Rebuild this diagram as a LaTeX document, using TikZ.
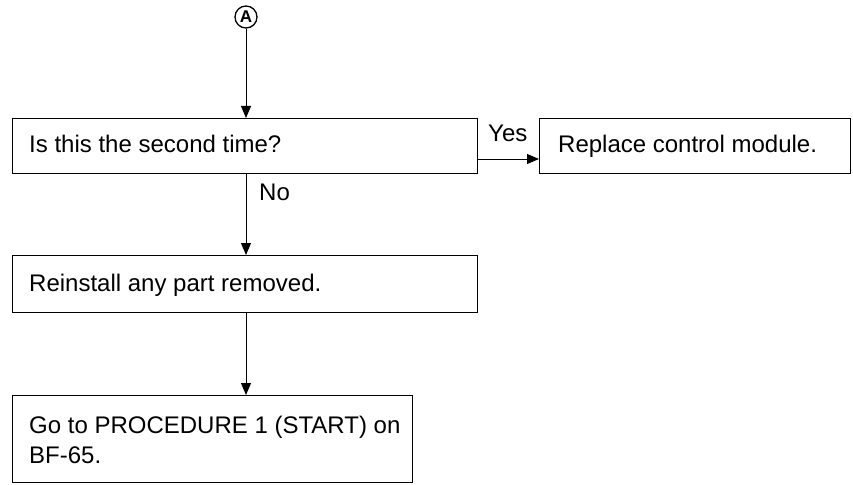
\documentclass[tikz,border=0pt]{standalone}
\usepackage{fontspec}
\setmainfont{Liberation Sans}
\usetikzlibrary{arrows.meta}
\begin{document}
\begin{tikzpicture}[x=1pt,y=-1pt,
  box/.style={draw,line width=1.2pt,rectangle,inner sep=0pt,anchor=north west},
  txt/.style={anchor=base west,font=\fontsize{24}{30}\selectfont,inner sep=0pt},
  conn/.style={line width=0.9pt,-{Triangle[length=12pt,width=10pt]}},
  lbl/.style={font=\fontsize{24}{30}\selectfont,inner sep=0pt}]
\useasboundingbox (0,0) rectangle (853,484);
\node[draw,circle,line width=1.3pt,minimum size=22pt,inner sep=0pt,font=\bfseries\fontsize{17}{17}\selectfont] (A) at (246,17) {A};
\node[box,minimum width=465pt,minimum height=55pt] (b1) at (12,118) {};
\node[txt] (t1) at (29,152) {Is this the second time?};
\node[box,minimum width=311pt,minimum height=55pt] (b2) at (539,118) {};
\node[txt] (t2) at (558,152) {Replace control module.};
\node[box,minimum width=465pt,minimum height=57pt] (b3) at (12,255) {};
\node[txt] (t3) at (29,291) {Reinstall any part removed.};
\node[box,minimum width=400pt,minimum height=87pt] (b4) at (12,395) {};
\node[txt] (t4) at (29,433) {Go to PROCEDURE 1 (START) on};
\node[txt] (t4b) at (29,463) {BF-65.};
\draw[conn] (A.south) -- (A.south |- b1.north);
\coordinate (yes0) at (b1.east |- 0,159);
\draw[conn] (yes0) -- (yes0 -| b2.west);
\node[lbl,anchor=base west] (yes) at (488,141) {Yes};
\draw[conn] (246,173) coordinate (c2) -- (c2 |- b3.north);
\node[lbl,anchor=base west] (no) at (259,200) {No};
\draw[conn] (246,312) coordinate (c3) -- (c3 |- b4.north);
\end{tikzpicture}
\end{document}
